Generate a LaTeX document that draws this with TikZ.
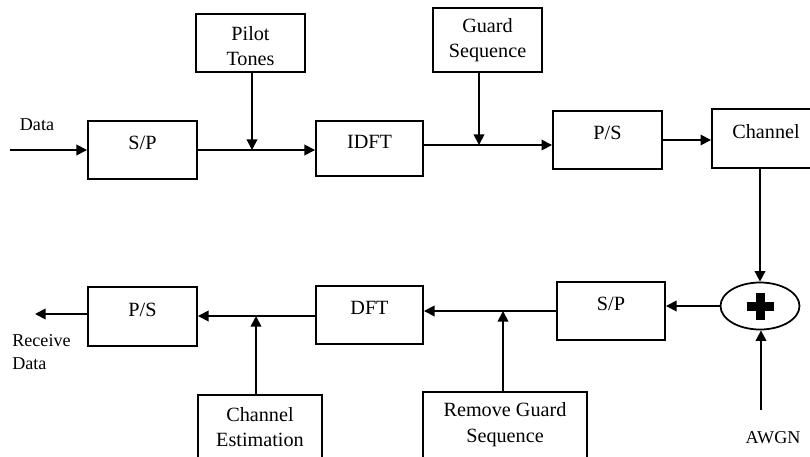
\documentclass[tikz,border=0pt]{standalone}
\usepackage{fontspec}
\setmainfont{Liberation Serif}
\usetikzlibrary{arrows.meta,shapes.geometric}

\begin{document}
\begin{tikzpicture}[x=0.02cm,y=-0.02cm,
  font=\fontsize{11.5}{14.5}\selectfont,
  block/.style 2 args={draw,line width=1.1pt,minimum width={#1*0.02cm},minimum height={#2*0.02cm},inner sep=0pt},
  oneLine/.style={text height=8pt,text depth=8.4pt},
  twoLine/.style={align=center},
  tag/.style={font=\fontsize{10.3}{13}\selectfont,inner sep=0pt},
  flow/.style={line width=1pt,-{Triangle[length=6pt,width=6pt]}}]

  % frame of the page
  \useasboundingbox (0,0) rectangle (810,456);
  \clip (0,0) rectangle (810,456);

  % transmitter row
  \node[block={109}{58},oneLine] (spTx) at (142.5,150) {S/P};
  \node[block={109}{58},twoLine] (pilot) at (250.5,43) {};
  \node (pilotText) at (250.5,46) [align=center] {Pilot\\Tones};
  \node[block={107}{55},oneLine] (idft) at (369.5,148.5) {IDFT};
  \node[block={109}{64},twoLine] (guard) at (487.5,40) {Guard\\Sequence};
  \node[block={109}{58},oneLine] (psTx) at (607.5,140) {P/S};
  \node[block={108}{59},oneLine] (chan) at (766,138.5) {Channel};

  % adder
  \node[draw,ellipse,line width=1pt,minimum width={79*0.02cm},minimum height={47*0.02cm}] (sum) at (760,306) {};
  \fill (sum.center) ++(-13.5,-4.5) rectangle ++(27,9);
  \fill (sum.center) ++(-4.5,-13.5) rectangle ++(9,27);

  % receiver row
  \node[block={108}{58},oneLine] (spRx) at (611,311) {S/P};
  \node[block={107}{58},oneLine] (dft) at (369.5,315) {DFT};
  \node[block={109}{59},oneLine] (psRx) at (142.5,316.5) {P/S};
  \node[block={124}{80},anchor=north] (chEst) at (260,394) {};
  \node[align=center] (chEstText) at (260,427) {Channel\\Estimation};
  \node[block={164}{80},anchor=north] (rmGuard) at (505,391) {};
  \node[align=center] (rmGuardText) at (505,424.5) {Remove Guard\\Sequence};

  % labels and free ends
  \node[tag] (dataIn) at (37,125) {Data};
  \node[tag,align=left,anchor=north west] (rxData) at (12,334) {Receive\\Data};
  \node[tag] (awgn) at (773,438) {AWGN};
  \coordinate (dataSrc) at (10,150);
  \coordinate (dataOut) at (35,314);
  \coordinate (awgnSrc) at (761,410);
  \coordinate (pilotJoin) at (252,150);
  \coordinate (guardJoin) at (479,145);
  \coordinate (estJoin) at (256,316);
  \coordinate (rmJoin) at (503,311);

  % connectors
  \draw[flow] (dataSrc) -- (spTx.west);
  \draw[flow] (spTx.east) -- (spTx.east -| idft.west);
  \draw[flow] (pilot.south -| pilotJoin) -- (pilotJoin);
  \draw[flow] (idft.east |- guardJoin) -- (psTx.west |- guardJoin);
  \draw[flow] (guard.south -| guardJoin) -- (guardJoin);
  \draw[flow] (psTx.east) -- (chan.west |- psTx.east);
  \draw[flow] (chan.south -| sum.north) -- (sum.north);
  \draw[flow] (sum.west) -- (spRx.east |- sum.west);
  \draw[flow] (spRx.west |- rmJoin) -- (dft.east |- rmJoin);
  \draw[flow] (rmGuard.north -| rmJoin) -- (rmJoin);
  \draw[flow] (dft.west |- estJoin) -- (psRx.east |- estJoin);
  \draw[flow] (chEst.north -| estJoin) -- (estJoin);
  \draw[flow] (psRx.west |- dataOut) -- (dataOut);
  \draw[flow] (awgnSrc) -- (sum.south -| awgnSrc);
\end{tikzpicture}
\end{document}
